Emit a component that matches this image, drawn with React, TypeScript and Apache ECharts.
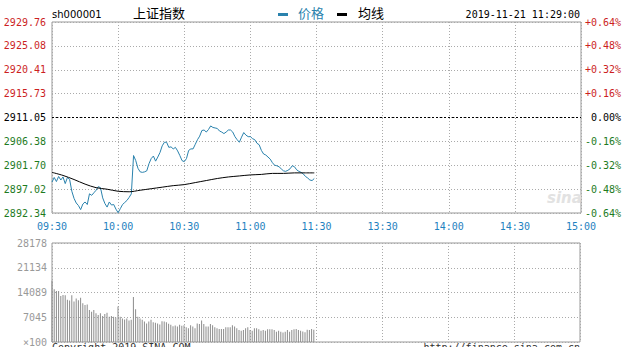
import React, { useEffect, useRef } from "react";
import * as echarts from "echarts";

// ---- data ----
const PRE_CLOSE = 2911.05;
const PRICE_STEP = 4.6775;
const VOL_MAX = 28178;

const timeTickLabels = ["09:30", "10:00", "10:30", "11:00", "11:30", "13:30", "14:00", "14:30", "15:00"];
const priceTickLabels = ["2892.34", "2897.02", "2901.70", "2906.38", "2911.05", "2915.73", "2920.41", "2925.08", "2929.76"];
const pctTickLabels = ["-0.64%", "-0.48%", "-0.32%", "-0.16%", "0.00%", "+0.16%", "+0.32%", "+0.48%", "+0.64%"];
const volTickLabels = ["×100", "7045", "14089", "21134", "28178"];

// price per minute from 09:30 (index 0) to 11:29 (index 119)
const priceValues = [
  2898.4, 2899.3, 2898.5, 2899.5, 2898.8, 2899.4, 2898.1, 2899.3, 2898.9, 2896.6,
  2895.2, 2894.3, 2893.8, 2893.0, 2894.1, 2894.5, 2894.0, 2896.1, 2895.8, 2896.3,
  2896.8, 2897.5, 2897.3, 2895.3, 2894.2, 2893.5, 2894.5, 2893.9, 2894.0, 2893.1,
  2892.4, 2893.2, 2894.0, 2894.4, 2894.8, 2895.4, 2896.1, 2903.6, 2902.6, 2901.1,
  2900.4, 2900.3, 2900.4, 2900.6, 2902.0, 2903.0, 2903.5, 2902.5, 2903.3, 2904.2,
  2905.5, 2906.2, 2906.2, 2905.2, 2905.3, 2904.9, 2905.2, 2904.5, 2903.6, 2902.6,
  2902.4, 2903.0, 2904.6, 2904.9, 2904.9, 2905.8, 2906.7, 2907.4, 2908.5, 2908.6,
  2908.2, 2908.7, 2909.4, 2909.1, 2909.0, 2908.9, 2908.4, 2908.2, 2907.9, 2908.2,
  2908.6, 2908.6, 2908.2, 2907.3, 2906.7, 2906.2, 2907.2, 2908.1, 2907.6, 2907.3,
  2907.3, 2906.9, 2906.7, 2906.0, 2905.7, 2904.6, 2903.9, 2903.7, 2903.3, 2902.9,
  2902.2, 2901.7, 2901.6, 2901.4, 2901.0, 2900.6, 2900.5, 2900.7, 2901.0, 2901.6,
  2901.4, 2900.8, 2900.5, 2900.3, 2900.0, 2899.5, 2899.2, 2898.8, 2898.7, 2899.1,
];

// average line, read every 5 minutes
const avgMinutes = [0, 5, 10, 15, 20, 25, 30, 35, 40, 45, 50, 55, 60, 65, 70, 75, 80, 85, 90, 95, 100, 105, 110, 115, 119];
const avgValues = [
  2900.3, 2899.7, 2898.9, 2898.0, 2897.3, 2897.0, 2896.6, 2896.5, 2896.8, 2897.1,
  2897.4, 2897.7, 2897.9, 2898.3, 2898.7, 2899.1, 2899.4, 2899.6, 2899.8, 2899.9,
  2900.1, 2900.1, 2900.2, 2900.2, 2900.2,
];

// volume per minute (x100)
const volumeValues = [
  17400, 15000, 14500, 14500, 13100, 13400, 13300, 12000, 11800, 13300,
  11500, 12400, 11900, 12600, 11000, 10500, 10700, 9100, 8600, 9100,
  8200, 7700, 8200, 7400, 8000, 8300, 7200, 7400, 7200, 7000,
  10100, 7200, 6700, 6400, 6700, 6100, 6300, 12800, 9300, 7200,
  6700, 6300, 5800, 5300, 5800, 6300, 5600, 5500, 5300, 5000,
  5900, 5800, 5600, 5200, 4900, 4500, 4700, 4400, 4900, 4600,
  4800, 4200, 3900, 4800, 4400, 3900, 5300, 5100, 6100, 5100,
  4400, 4400, 5100, 4800, 4200, 3900, 3700, 3700, 3700, 4200,
  4200, 4200, 4800, 4400, 3900, 3400, 3200, 3400, 3900, 4200,
  3400, 3200, 3900, 3900, 3600, 3200, 3400, 3200, 3600, 3600,
  3600, 3400, 2900, 3200, 2900, 2700, 2900, 3400, 2900, 3400,
  3600, 3700, 3400, 3200, 3000, 2800, 3500, 3400, 3700, 3500,
];

// ---- styles ----
const MONO = "DejaVu Sans Mono";
const RED = "#cc1f1f";
const GREEN = "#1e7b1e";
const BLUE_TXT = "#1f82c0";
const LINE_BLUE = "#2a82ad";
const GRID_LINE = { color: "#aaaaaa", type: [1, 2] as number[], width: 1 };

function tickIndex(v: number, min: number, step: number) {
  return Math.round((v - min) / step);
}

export default function App() {
  const ref = useRef<HTMLDivElement>(null);
  useEffect(() => {
    const chart = echarts.init(ref.current!, null, { renderer: "svg" });
    const yMin = -4 * PRICE_STEP;
    const yMax = 4 * PRICE_STEP;
    const richColors = {
      r: { color: RED, fontFamily: MONO, fontSize: 10 },
      g: { color: GREEN, fontFamily: MONO, fontSize: 10 },
      k: { color: "#000", fontFamily: MONO, fontSize: 10 },
    };
    const colorKey = (i: number) => (i < 4 ? "g" : i === 4 ? "k" : "r");
    const option: any = {
      animation: false,
      backgroundColor: "#fff",
      grid: [
        { left: 52, top: 22, width: 529, height: 191, show: true, borderColor: "#999", borderWidth: 1, backgroundColor: "transparent" },
        { left: 52, top: 243, width: 528, height: 99, show: true, borderColor: "#999", borderWidth: 1, backgroundColor: "transparent" },
      ],
      xAxis: [
        {
          type: "value", gridIndex: 0, min: 0, max: 240, interval: 30,
          axisLine: { show: false }, axisTick: { show: false },
          splitLine: { show: true, lineStyle: GRID_LINE },
          axisLabel: {
            margin: 8, color: BLUE_TXT, fontFamily: MONO, fontSize: 10,
            showMinLabel: true, showMaxLabel: true,
            formatter: (v: number) => timeTickLabels[tickIndex(v, 0, 30)] ?? "",
          },
        },
        {
          type: "value", gridIndex: 1, min: 0, max: 240, interval: 30,
          axisLine: { show: false }, axisTick: { show: false },
          splitLine: { show: true, lineStyle: GRID_LINE },
          axisLabel: { show: false },
        },
      ],
      yAxis: [
        {
          type: "value", gridIndex: 0, position: "left", min: yMin, max: yMax, interval: PRICE_STEP,
          axisLine: { show: false }, axisTick: { show: false },
          splitLine: { show: true, lineStyle: GRID_LINE },
          axisLabel: {
            margin: 6, showMinLabel: true, showMaxLabel: true, rich: richColors,
            formatter: (v: number) => {
              const i = tickIndex(v, yMin, PRICE_STEP);
              return `{${colorKey(i)}|${priceTickLabels[i] ?? ""}}`;
            },
          },
        },
        {
          type: "value", gridIndex: 0, position: "right", min: yMin, max: yMax, interval: PRICE_STEP,
          axisLine: { show: false }, axisTick: { show: false },
          splitLine: { show: false },
          axisLabel: {
            margin: 40, align: "right", showMinLabel: true, showMaxLabel: true, rich: richColors,
            formatter: (v: number) => {
              const i = tickIndex(v, yMin, PRICE_STEP);
              return `{${colorKey(i)}|${pctTickLabels[i] ?? ""}}`;
            },
          },
        },
        {
          type: "value", gridIndex: 1, position: "left", min: 0, max: VOL_MAX, interval: VOL_MAX / 4,
          axisLine: { show: false }, axisTick: { show: false },
          splitLine: { show: true, lineStyle: GRID_LINE },
          axisLabel: {
            margin: 5, color: "#999", fontFamily: MONO, fontSize: 10, showMinLabel: true, showMaxLabel: true,
            formatter: (v: number) => volTickLabels[tickIndex(v, 0, VOL_MAX / 4)] ?? "",
          },
        },
      ],
      series: [
        {
          name: "价格", type: "line", xAxisIndex: 0, yAxisIndex: 0,
          data: priceValues.map((p, i) => [i, p - PRE_CLOSE]),
          showSymbol: false, symbol: "none",
          lineStyle: { color: LINE_BLUE, width: 1 },
          markLine: {
            silent: true, symbol: "none", label: { show: false },
            lineStyle: { color: "#000", type: [2, 2], width: 1 },
            data: [{ yAxis: 0 }],
          },
          z: 3,
        },
        {
          name: "均线", type: "line", xAxisIndex: 0, yAxisIndex: 0,
          data: avgMinutes.map((m, i) => [m, avgValues[i] - PRE_CLOSE]),
          showSymbol: false, symbol: "none", smooth: 0.3,
          lineStyle: { color: "#000", width: 1 },
          z: 4,
        },
        {
          name: "成交量", type: "bar", xAxisIndex: 1, yAxisIndex: 2,
          data: volumeValues.map((v, i) => [i, v]),
          barWidth: 1,
          itemStyle: { color: "#8c8c8c" },
        },
      ],
      graphic: [
        { type: "text", left: 52, top: 9, style: { text: "sh000001", fill: "#000", font: "10px 'DejaVu Sans'" } },
        { type: "text", left: 133, top: 6, style: { text: "上证指数", fill: "#000", font: "13px 'Noto Sans CJK SC'" } },
        { type: "rect", shape: { x: 278, y: 13, width: 10, height: 3 }, style: { fill: LINE_BLUE } },
        { type: "text", left: 298, top: 6, style: { text: "价格", fill: LINE_BLUE, font: "13px 'Noto Sans CJK SC'" } },
        { type: "rect", shape: { x: 337, y: 13, width: 10, height: 3 }, style: { fill: "#000" } },
        { type: "text", left: 358, top: 6, style: { text: "均线", fill: "#000", font: "13px 'Noto Sans CJK SC'" } },
        { type: "text", right: 44, top: 9, style: { text: "2019-11-21 11:29:00", fill: "#000", font: `10px '${MONO}'` } },
        { type: "text", left: 547, top: 190, style: { text: "sina", fill: "#e2e2e2", font: "italic bold 15px 'DejaVu Sans'" } },
        { type: "text", left: 52, top: 342, style: { text: "Copyright 2019 SINA.COM", fill: "#333", font: `10px '${MONO}'` } },
        { type: "text", right: 44, top: 342, style: { text: "http://finance.sina.com.cn", fill: "#333", font: `10px '${MONO}'` } },
      ],
    };
    chart.setOption(option);
    return () => chart.dispose();
  }, []);
  return <div ref={ref} style={{ position: "absolute", left: 0, top: 0, width: 624, height: 347 }} />;
}
